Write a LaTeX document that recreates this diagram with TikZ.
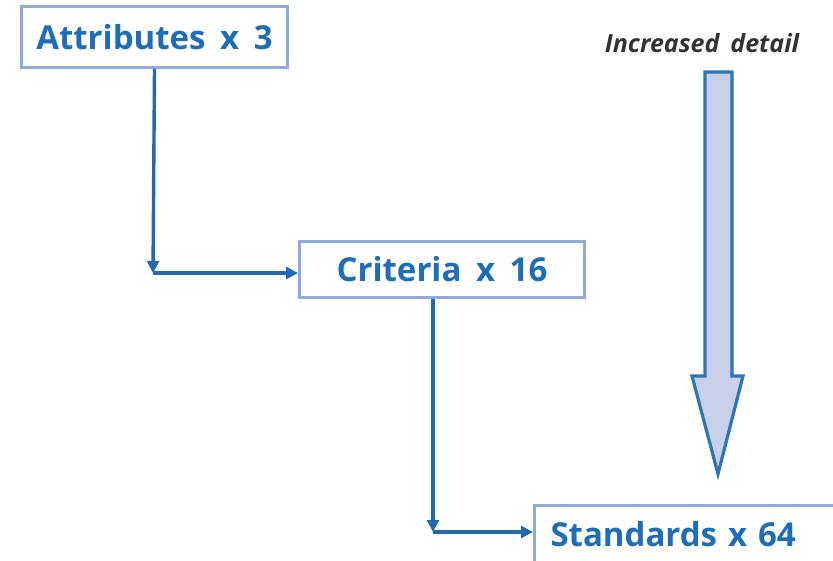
\documentclass[tikz,border=0pt]{standalone}
\usepackage{fontspec}
\setmainfont{Open Sans}[WordSpace={1.7}]
\usetikzlibrary{arrows.meta}
\definecolor{txtblue}{HTML}{1F6DB8}
\definecolor{boxline}{HTML}{8FAADC}
\definecolor{linkblue}{HTML}{2468B2}
\definecolor{arrfill}{HTML}{C8D0EA}
\definecolor{arrline}{HTML}{2E75B6}
\definecolor{noteclr}{HTML}{333333}
\tikzset{
  levelbox/.style={draw=boxline, line width=3pt, fill=white, inner sep=0pt,
    font=\fontsize{33}{40}\selectfont\bfseries, text=txtblue, anchor=north west},
  link/.style={draw=linkblue, line width=3.4pt, -{Triangle[length=12pt,width=12pt]}},
  bigarrow/.style={draw=arrline, line width=3.2pt, fill=arrfill, line join=miter},
  note/.style={font=\fontsize{25}{29}\selectfont\bfseries\itshape, text=noteclr}
}
\begin{document}
\begin{tikzpicture}[x=1pt,y=-1pt]
\useasboundingbox (0,0) rectangle (833,561);
\clip (0,0) rectangle (833,561);
\node[levelbox, minimum width=266pt, minimum height=61pt] (attr) at (20,5) {Attributes x 3};
\node[levelbox, minimum width=285pt, minimum height=56pt] (crit) at (298,240) {Criteria x 16};
\node[levelbox, minimum width=320pt, minimum height=70pt, text width=300pt, align=left] (stand) at (533,504) {\hspace*{6pt}\raisebox{14pt}{Standards x 64}};
\coordinate (c1) at (153,273);
\coordinate (c2) at (433,532);
\draw[link] (attr.south) -- (c1);
\draw[link] (c1) -- (crit.west |- c1);
\draw[link] (crit.south -| c2) -- (c2);
\draw[link] (c2) -- (stand.west |- c2);
\node[note] (note) at (702,43) {Increased detail};
\draw[bigarrow] (705,72) -- (732,72) -- (732,376) -- (743,376) -- (718,474) -- (692,376) -- (705,376) -- cycle;
\end{tikzpicture}
\end{document}
